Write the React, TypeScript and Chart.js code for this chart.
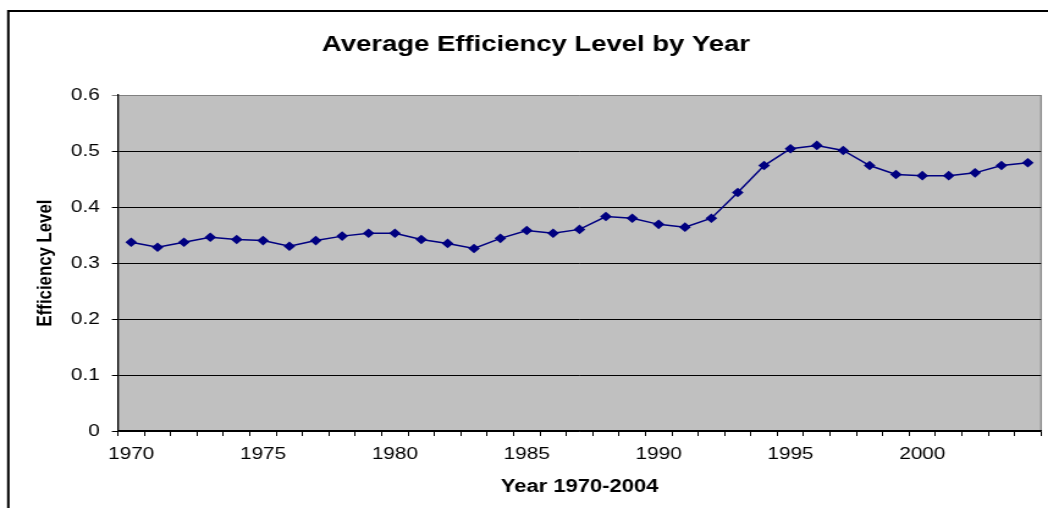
import React, { useEffect, useRef } from "react";
import { Chart, registerables } from "chart.js";

Chart.register(...registerables);

const years: string[] = [
  "1970", "1971", "1972", "1973", "1974", "1975", "1976", "1977", "1978", "1979",
  "1980", "1981", "1982", "1983", "1984", "1985", "1986", "1987", "1988", "1989",
  "1990", "1991", "1992", "1993", "1994", "1995", "1996", "1997", "1998", "1999",
  "2000", "2001", "2002", "2003", "2004",
];

const efficiency: number[] = [
  0.337, 0.328, 0.337, 0.346, 0.342, 0.340, 0.330, 0.340, 0.348, 0.353,
  0.353, 0.342, 0.335, 0.326, 0.344, 0.358, 0.353, 0.360, 0.383, 0.380,
  0.369, 0.364, 0.380, 0.426, 0.474, 0.504, 0.510, 0.501, 0.474, 0.458,
  0.456, 0.456, 0.461, 0.474, 0.479,
];

const shownYearLabels: string[] = ["1970", "1975", "1980", "1985", "1990", "1995", "2000"];

const chartTitle = "Average Efficiency Level by Year";
const xTitle = "Year 1970-2004";
const yTitle = "Efficiency Level";

// the reference is an Excel chart stretched horizontally; render narrower and stretch by CSS
const DISPLAY_W = 1048;
const DISPLAY_H = 508;
const INTERNAL_W = 858;
const SX = DISPLAY_W / INTERNAL_W;

const FONT = "'Liberation Sans', Arial, sans-serif";

const decorPlugin = {
  id: "decor",
  beforeDraw(chart: any) {
    const { ctx, chartArea } = chart;
    ctx.save();
    ctx.fillStyle = "#ffffff";
    ctx.fillRect(0, 0, chart.width, chart.height);
    // outer frame
    ctx.strokeStyle = "#000000";
    ctx.lineWidth = 2;
    ctx.strokeRect(6.8, 11, chart.width + 20, chart.height + 20);
    // plot area
    const { left, top, right, bottom } = chartArea;
    ctx.fillStyle = "#c0c0c0";
    ctx.fillRect(left, top, right - left, bottom - top);
    ctx.strokeStyle = "#808080";
    ctx.lineWidth = 1.2;
    ctx.beginPath();
    ctx.moveTo(right, top);
    ctx.lineTo(right, bottom);
    ctx.stroke();
    ctx.restore();
  },
  afterDraw(chart: any) {
    const { ctx, chartArea } = chart;
    ctx.save();
    ctx.fillStyle = "#000000";
    ctx.textAlign = "center";
    ctx.textBaseline = "alphabetic";
    ctx.font = `bold 22.5px ${FONT}`;
    ctx.fillText(chartTitle, 536 / SX, 51);
    ctx.font = `bold 18px ${FONT}`;
    ctx.fillText(xTitle, (chartArea.left + chartArea.right) / 2, 492);
    ctx.translate(42 / SX + 2.5, (chartArea.top + chartArea.bottom) / 2);
    ctx.rotate(-Math.PI / 2);
    ctx.font = `bold 16.8px ${FONT}`;
    ctx.textBaseline = "middle";
    ctx.fillText(yTitle, 0, 0);
    ctx.restore();
  },
};

export default function App() {
  const canvasRef = useRef<HTMLCanvasElement | null>(null);

  useEffect(() => {
    const canvas = canvasRef.current;
    if (!canvas) return;
    const chart = new Chart(canvas, {
      type: "line",
      data: {
        labels: years,
        datasets: [
          {
            label: "Efficiency Level",
            data: efficiency,
            borderColor: "#000080",
            backgroundColor: "#000080",
            borderWidth: 1.5,
            pointStyle: "rectRot",
            pointRadius: 4.8,
            pointBorderWidth: 0,
            pointBackgroundColor: "#000080",
            tension: 0,
          },
        ],
      },
      options: {
        animation: false,
        responsive: false,
        devicePixelRatio: 1,
        layout: { padding: { top: 95, right: INTERNAL_W - 1041 / SX, left: 0, bottom: 0 } },
        plugins: {
          legend: { display: false },
          title: { display: false },
          tooltip: { enabled: false },
        },
        scales: {
          x: {
            type: "category",
            offset: true,
            grid: {
              display: true,
              offset: true,
              drawOnChartArea: false,
              drawTicks: true,
              tickLength: 5,
              color: "#000000",
              lineWidth: 1,
            },
            border: { display: true, color: "#000000", width: 1.3 },
            ticks: {
              autoSkip: false,
              maxRotation: 0,
              minRotation: 0,
              padding: 8,
              color: "#000000",
              font: { family: FONT, size: 17 },
              callback: function (this: any, _v: any, i: number) {
                const lab = years[i];
                return shownYearLabels.includes(lab) ? lab : "";
              },
            },
            afterFit(scale: any) {
              scale.height = DISPLAY_H - 431;
            },
          },
          y: {
            min: 0,
            max: 0.6,
            ticks: {
              stepSize: 0.1,
              padding: 10,
              color: "#000000",
              font: { family: FONT, size: 17 },
              callback: (v: any) => (Number(v) === 0 ? "0" : Number(v).toFixed(1)),
            },
            grid: {
              color: (c: any) => (c.tick && Math.abs(c.tick.value - 0.6) < 1e-9 ? "#808080" : "#000000"),
              lineWidth: 1,
              tickLength: 5,
              drawTicks: true,
            },
            border: { display: true, color: "#000000", width: 1.3 },
            afterFit(scale: any) {
              scale.width = 118 / SX;
            },
          },
        },
      },
      plugins: [decorPlugin],
    });
    return () => chart.destroy();
  }, []);

  return (
    <div style={{ position: "absolute", left: 0, top: 0, width: DISPLAY_W, height: DISPLAY_H, background: "#fff" }}>
      <canvas
        ref={canvasRef}
        width={INTERNAL_W}
        height={DISPLAY_H}
        style={{ width: `${DISPLAY_W}px`, height: `${DISPLAY_H}px`, display: "block" }}
      />
    </div>
  );
}
